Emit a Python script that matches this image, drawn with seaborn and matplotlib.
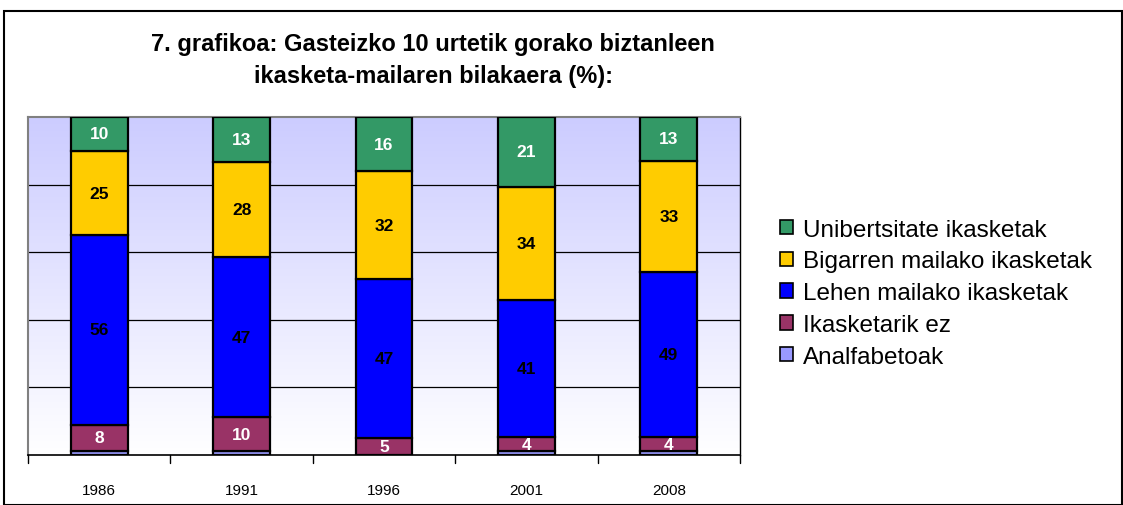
import numpy as np
import pandas as pd
import matplotlib
matplotlib.use("Agg")
import matplotlib.pyplot as plt
import seaborn as sns
from matplotlib.patches import Rectangle, Patch

years = ["1986", "1991", "1996", "2001", "2008"]
series_names = ["Analfabetoak", "Ikasketarik ez", "Lehen mailako ikasketak",
                "Bigarren mailako ikasketak", "Unibertsitate ikasketak"]
analfabetoak = [1.2, 1.2, 0.0, 1.2, 1.2]
ikasketarik_ez = [7.8, 10, 5, 4, 4]
lehen = [56, 47.4, 47, 40.6, 48.8]
bigarren = [25, 28, 32, 33.6, 33]
unibertsitate = [10, 13.4, 16, 20.6, 13]

colors = ["#9999FF", "#993366", "#0000FF", "#FFCC00", "#339966"]
label_colors = [None, "white", "black", "black", "white"]

sns.set_theme(style="white")
plt.rcParams['font.family'] = ['Liberation Sans', 'DejaVu Sans']
plt.rcParams['text.color'] = 'black'
plt.rcParams['xtick.color'] = 'black'

fig = plt.figure(figsize=(11.23, 5.06), dpi=100)
ax = fig.add_axes([28/1123, 50/506, (740-28)/1123, (456-118)/506])

# gradient background (lavender at top fading to white at bottom)
grad = np.linspace(0, 1, 256).reshape(-1, 1)
top = np.array([204, 204, 255]) / 255
bot = np.array([255, 255, 255]) / 255
img = top[None, None, :] * (1 - grad[..., None]) + bot[None, None, :] * grad[..., None]
ax.imshow(img, extent=[-0.5, 4.5, 0, 100], origin="upper", aspect='auto',
          zorder=0, interpolation='bilinear')

data = [analfabetoak, ikasketarik_ez, lehen, bigarren, unibertsitate]
bottom = np.zeros(len(years))
for name, vals, col, lc in zip(series_names, data, colors, label_colors):
    df = pd.DataFrame({"year": years, "val": vals})
    sns.barplot(data=df, x="year", y="val", bottom=bottom, color=col,
                saturation=1, width=0.4, edgecolor="black", linewidth=1.6,
                ax=ax, zorder=3)
    if lc is not None:
        for i, v in enumerate(vals):
            if v > 0:
                ax.text(i, bottom[i] + v / 2, f"{round(v)}", ha="center",
                        va="center", color=lc, fontsize=12.5, fontweight="bold",
                        zorder=5)
    bottom = bottom + np.array(vals)

ax.set_xlim(-0.5, 4.5)
ax.set_ylim(0, 100)
for g in [20, 40, 60, 80]:
    ax.axhline(g, color="black", linewidth=0.9, zorder=1)
ax.set_yticks([])
ax.set_xlabel("")
ax.set_ylabel("")
ax.set_xticks(range(len(years)))
ax.set_xticklabels(years, fontsize=11)
ax.tick_params(axis="x", length=0, pad=20)
for b in np.arange(-0.5, 4.6, 1):
    ax.plot([b, b], [0, -2.5], color="black", lw=1, clip_on=False, zorder=4)
for side in ["top", "left"]:
    ax.spines[side].set_color("#808080")
    ax.spines[side].set_linewidth(1.5)
ax.spines["right"].set_color("black")
ax.spines["right"].set_linewidth(1)
ax.spines["bottom"].set_color("black")
ax.spines["bottom"].set_linewidth(1.2)

fig.text(433/1123, 1 - 45/506, "7. grafikoa: Gasteizko 10 urtetik gorako biztanleen",
         ha="center", va="center", fontsize=17, fontweight="bold")
fig.text(433/1123, 1 - 76/506, "ikasketa-mailaren bilakaera (%):",
         ha="center", va="center", fontsize=17, fontweight="bold")

handles = [Patch(facecolor=c, edgecolor="black", linewidth=1.2)
           for c in colors[::-1]]
leg = fig.legend(handles, series_names[::-1], loc="upper left",
                 bbox_to_anchor=(770/1123, 1 - 210/506), frameon=False,
                 fontsize=17.5, handlelength=0.55, handleheight=0.55,
                 handletextpad=0.4, labelspacing=0.4, borderaxespad=0)

fig.add_artist(Rectangle((4/1123, 0), 1118/1123, 1 - 12/506,
                         transform=fig.transFigure, fill=False,
                         edgecolor="black", linewidth=1.5))

fig.savefig("out.png", dpi=100)
